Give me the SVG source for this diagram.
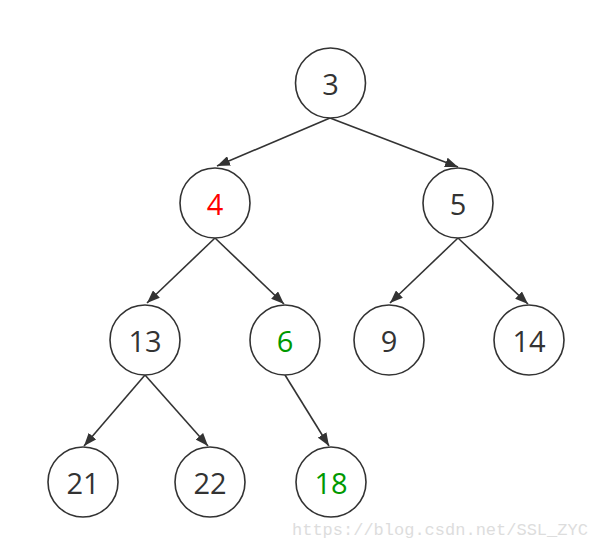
<svg xmlns="http://www.w3.org/2000/svg" width="596" height="549" viewBox="0 0 596 549">
<style>
.n{fill:#fff;stroke:#333;stroke-width:1.6}
.t{font-family:"Open Sans","DejaVu Sans",sans-serif;font-size:29px;fill:#333;text-anchor:middle;dominant-baseline:central}
.e{stroke:#333;stroke-width:1.6;fill:none;marker-end:url(#a)}
.wm{font-family:"Liberation Mono",monospace;font-size:17px;fill:#ddd}
</style>
<defs>
<marker id="a" viewBox="0 0 13 10" refX="13" refY="5" markerWidth="13" markerHeight="10" markerUnits="userSpaceOnUse" orient="auto">
<path d="M0,0 L13,5 L0,10 Z" fill="#333"/>
</marker>
</defs>
<rect width="596" height="549" fill="#fff"/>
<g id="connectors">
<line class="e" x1="330" y1="118" x2="217" y2="166"/>
<line class="e" x1="330" y1="118" x2="458" y2="167"/>
<line class="e" x1="215" y1="238" x2="147" y2="303"/>
<line class="e" x1="215" y1="238" x2="284" y2="304"/>
<line class="e" x1="458" y1="238" x2="390" y2="303"/>
<line class="e" x1="458" y1="238" x2="528" y2="304"/>
<line class="e" x1="145" y1="375" x2="84" y2="446"/>
<line class="e" x1="145" y1="375" x2="208" y2="446"/>
<line class="e" x1="285" y1="375" x2="329" y2="446"/>
</g>
<g id="n3"><circle class="n" cx="330.5" cy="83" r="35"/><text class="t" x="330.5" y="83">3</text></g>
<g id="n4"><circle class="n" cx="215" cy="203" r="35"/><text class="t" x="215" y="203" style="fill:#f00">4</text></g>
<g id="n5"><circle class="n" cx="458" cy="203" r="35"/><text class="t" x="458" y="203">5</text></g>
<g id="n13"><circle class="n" cx="145" cy="340" r="35"/><text class="t" x="145" y="340">13</text></g>
<g id="n6"><circle class="n" cx="285" cy="340" r="35"/><text class="t" x="285" y="340" style="fill:#090">6</text></g>
<g id="n9"><circle class="n" cx="389" cy="340" r="35"/><text class="t" x="389" y="340">9</text></g>
<g id="n14"><circle class="n" cx="529" cy="340" r="35"/><text class="t" x="529" y="340">14</text></g>
<g id="n21"><circle class="n" cx="83" cy="482" r="35"/><text class="t" x="83" y="482">21</text></g>
<g id="n22"><circle class="n" cx="210" cy="482" r="35"/><text class="t" x="210" y="482">22</text></g>
<g id="n18"><circle class="n" cx="331" cy="482" r="35"/><text class="t" x="331" y="482" style="fill:#090">18</text></g>
<text class="wm" x="292" y="535">https://blog.csdn.net/SSL_ZYC</text>
</svg>
